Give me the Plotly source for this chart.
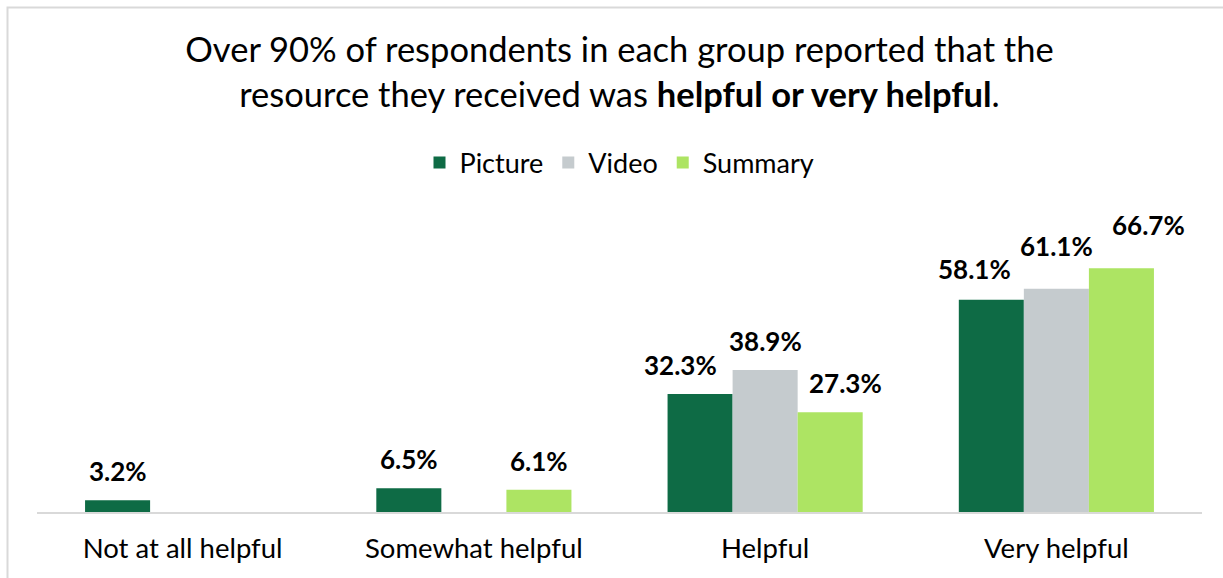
import plotly.graph_objects as go

categories = ["Not at all helpful", "Somewhat helpful", "Helpful", "Very helpful"]
series_names = ["Picture", "Video", "Summary"]
picture = [3.2, 6.5, 32.3, 58.1]
video = [None, None, 38.9, 61.1]
summary = [None, 6.1, 27.3, 66.7]

colors = ["#0E6B45", "#C5CBCE", "#ADE463"]
# pixel nudges for the value labels (x, y) so neighbouring labels don't collide
label_nudge = {
    ("Picture", 2): (-20, 0), ("Picture", 3): (-17, 2),
    ("Video", 3): (0, 14),
    ("Summary", 2): (15, 0), ("Summary", 3): (27, 14),
}

W, H = 1223, 578
ML, MR, MT, MB = 37, 21, 238, 66
BARGAP = 0.33
FONT = "Lato"

fig = go.Figure()
all_series = [picture, video, summary]
for name, vals, col in zip(series_names, all_series, colors):
    fig.add_trace(go.Bar(name=name, x=list(range(len(categories))), y=vals,
                         marker=dict(color=col, line=dict(width=0))))

# value labels above each bar
bar_w = (1 - BARGAP) / len(series_names)
annotations = []
for j, (name, vals) in enumerate(zip(series_names, all_series)):
    for i, v in enumerate(vals):
        if v is None:
            continue
        dx, dy = label_nudge.get((name, i), (0, 0))
        annotations.append(dict(
            x=i + (j - 1) * bar_w, y=v, xref="x", yref="y",
            text=f"{v:.1f}%", showarrow=False,
            xanchor="center", yanchor="middle",
            xshift=dx, yshift=29 + dy,
            font=dict(family=FONT, size=26, color="#000000", weight="bold"),
        ))

pw = W - ML - MR
ph = H - MT - MB
def px_x(p):
    return (p - ML) / pw
def px_y(p):
    return (H - MB - p) / ph

fig.update_layout(
    width=W, height=H,
    margin=dict(l=ML, r=MR, t=MT, b=MB),
    paper_bgcolor="white", plot_bgcolor="white",
    barmode="group", bargap=BARGAP, bargroupgap=0,
    font=dict(family=FONT, color="#000000"),
    title=dict(
        text="Over 90% of respondents in each group reported that the<br>"
             "resource they received was <b>helpful or very helpful</b>.",
        x=0.5, xref="paper", xanchor="center",
        y=1 - 62 / H, yref="container", yanchor="top",
        font=dict(family=FONT, size=34.5, color="#000000"),
    ),
    legend=dict(
        orientation="h", x=0.5, xanchor="center",
        y=px_y(163), yanchor="middle",
        font=dict(family=FONT, size=27, color="#000000"),
        traceorder="normal",
    ),
    xaxis=dict(
        tickmode="array", tickvals=list(range(len(categories))), ticktext=categories,
        range=[-0.5, len(categories) - 0.5],
        showline=True, linecolor="#D9D9D9", linewidth=2,
        ticks="outside", ticklen=11, tickcolor="rgba(0,0,0,0)",
        tickfont=dict(family=FONT, size=27.5, color="#000000"),
        showgrid=False, zeroline=False,
    ),
    yaxis=dict(range=[0, 75], visible=False, showgrid=False, zeroline=False),
    annotations=annotations,
    shapes=[dict(
        type="rect", xref="paper", yref="paper",
        x0=px_x(7.5), x1=px_x(W + 5), y0=px_y(H + 5), y1=px_y(7.5),
        line=dict(color="#D9D9D9", width=2), fillcolor="rgba(0,0,0,0)",
        layer="below",
    )],
)

fig.write_html("out.html")
